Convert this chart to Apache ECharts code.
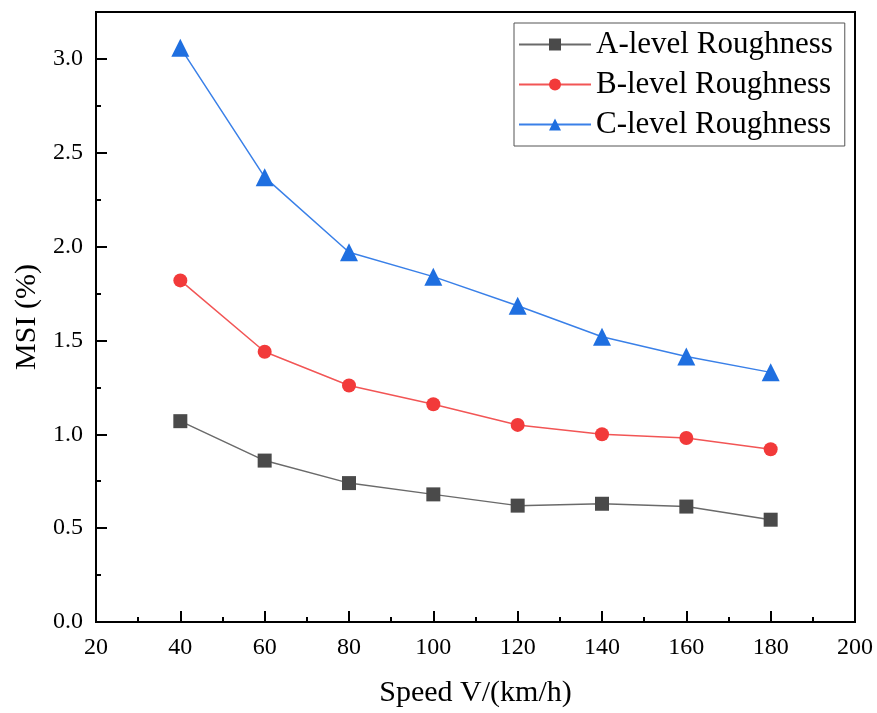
<!DOCTYPE html>
<html><head><meta charset="utf-8">
<script src="https://cdn.jsdelivr.net/npm/echarts@6/dist/echarts.min.js"></script>
<style>html,body{margin:0;padding:0;background:#fff}#c{width:877px;height:713px}</style>
</head><body><div id="c"></div>
<script>
const speeds = [40, 60, 80, 100, 120, 140, 160, 180];
const aLevel = [1.07, 0.86, 0.74, 0.68, 0.62, 0.63, 0.615, 0.545];
const bLevel = [1.82, 1.44, 1.26, 1.16, 1.05, 1.00, 0.98, 0.92];
const cLevel = [3.06, 2.37, 1.97, 1.84, 1.685, 1.52, 1.415, 1.33];
const seriesNames = ['A-level Roughness', 'B-level Roughness', 'C-level Roughness'];

const font = '"Liberation Serif", "Times New Roman", serif';
const pair = arr => speeds.map((s, i) => [s, arr[i]]);
const chart = echarts.init(document.getElementById('c'));
chart.setOption({
  animation: false,
  backgroundColor: '#fff',
  grid: { left: 96, right: 22, top: 12, bottom: 89, show: true, borderColor: '#000', borderWidth: 2 },
  legend: {
    orient: 'vertical', left: 514, top: 23,
    padding: [6, 12, 6, 4],
    borderColor: '#555', borderWidth: 1,
    itemWidth: 72, itemHeight: 15, itemGap: 9,
    textStyle: { fontFamily: font, fontSize: 31, color: '#000', lineHeight: 31 },
    data: seriesNames
  },
  xAxis: {
    type: 'value', min: 20, max: 200, interval: 20,
    name: 'Speed V/(km/h)', nameLocation: 'middle', nameGap: 56,
    nameTextStyle: { fontFamily: font, fontSize: 30, color: '#000' },
    axisLine: { lineStyle: { color: '#000', width: 2 } },
    axisTick: { inside: true, length: 11, lineStyle: { color: '#000', width: 2 } },
    minorTick: { show: true, splitNumber: 2, length: 5, lineStyle: { color: '#000', width: 2 } },
    axisLabel: { fontFamily: font, fontSize: 24, color: '#000', margin: 14 },
    splitLine: { show: false }
  },
  yAxis: {
    type: 'value', min: 0, max: 3.25, interval: 0.5,
    name: 'MSI (%)', nameLocation: 'middle', nameGap: 54, nameRotate: 90,
    nameTextStyle: { fontFamily: font, fontSize: 30, color: '#000' },
    axisLine: { lineStyle: { color: '#000', width: 2 } },
    axisTick: { inside: true, length: 11, lineStyle: { color: '#000', width: 2 } },
    minorTick: { show: true, splitNumber: 2, length: 5, lineStyle: { color: '#000', width: 2 } },
    axisLabel: { fontFamily: font, fontSize: 24, color: '#000', margin: 13,
      formatter: v => v > 3.1 ? '' : v.toFixed(1) },
    splitLine: { show: false }
  },
  series: [
    { name: seriesNames[0], type: 'line', data: pair(aLevel), symbol: 'rect', symbolSize: 14,
      itemStyle: { color: '#4a4a4a' }, lineStyle: { color: '#6a6a6a', width: 1.5 } },
    { name: seriesNames[1], type: 'line', data: pair(bLevel), symbol: 'circle', symbolSize: 14,
      itemStyle: { color: '#f23a3a' }, lineStyle: { color: '#f25555', width: 1.5 } },
    { name: seriesNames[2], type: 'line', data: pair(cLevel), symbol: 'triangle', symbolSize: 18,
      itemStyle: { color: '#1f6fe0' }, lineStyle: { color: '#3a80e8', width: 1.5 } }
  ]
});
</script></body></html>
